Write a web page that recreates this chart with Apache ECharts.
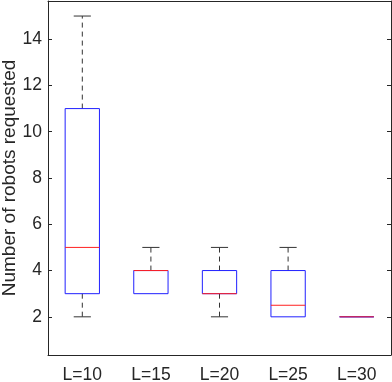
<!DOCTYPE html>
<html>
<head>
<meta charset="utf-8" />
<title>Robots requested</title>
<script src="https://cdn.jsdelivr.net/npm/echarts@6/dist/echarts.min.js"></script>
<style>
  html, body { margin: 0; padding: 0; background: #fff; }
  #chart { width: 392px; height: 382px; }
</style>
</head>
<body>
<div id="chart"></div>
<script>
// data
var categories = ['L=10', 'L=15', 'L=20', 'L=25', 'L=30'];
var whiskerLow = [2, 3, 2, 2, 2];
var quartile1 = [3, 3, 3, 2, 2];
var medians = [5, 4, 3, 2.5, 2];
var quartile3 = [11, 4, 4, 4, 2];
var whiskerHigh = [15, 5, 5, 5, 2];
var yTicks = [2, 4, 6, 8, 10, 12, 14];

var axisColor = '#262626';
var font = 'Liberation Sans, Arial, Helvetica, sans-serif';

var boxData = categories.map(function (c, i) {
    return [i, whiskerLow[i], quartile1[i], medians[i], quartile3[i], whiskerHigh[i]];
});

function renderBox(params, api) {
    var i = api.value(0);
    var pLow = api.coord([i, api.value(1)]);
    var pQ1 = api.coord([i, api.value(2)]);
    var pMed = api.coord([i, api.value(3)]);
    var pQ3 = api.coord([i, api.value(4)]);
    var pHigh = api.coord([i, api.value(5)]);
    var bw = api.size([1, 0])[0] * 0.5;
    var cx = pMed[0];
    var dash = { stroke: '#333', lineWidth: 1, lineDash: [5, 4] };
    var solid = { stroke: '#333', lineWidth: 1 };
    var children = [];
    if (pHigh[1] < pQ3[1]) {
        children.push({ type: 'line', shape: { x1: cx, y1: pQ3[1], x2: cx, y2: pHigh[1] }, style: dash });
        children.push({ type: 'line', shape: { x1: cx - bw / 4, y1: pHigh[1], x2: cx + bw / 4, y2: pHigh[1] }, style: solid });
    }
    if (pLow[1] > pQ1[1]) {
        children.push({ type: 'line', shape: { x1: cx, y1: pQ1[1], x2: cx, y2: pLow[1] }, style: dash });
        children.push({ type: 'line', shape: { x1: cx - bw / 4, y1: pLow[1], x2: cx + bw / 4, y2: pLow[1] }, style: solid });
    }
    children.push({
        type: 'rect',
        shape: { x: cx - bw / 2, y: pQ3[1], width: bw, height: pQ1[1] - pQ3[1] },
        style: { fill: 'none', stroke: '#2020ff', lineWidth: 1 }
    });
    children.push({
        type: 'line',
        shape: { x1: cx - bw / 2, y1: pMed[1], x2: cx + bw / 2, y2: pMed[1] },
        style: { stroke: '#ff2020', lineWidth: 1 }
    });
    return { type: 'group', children: children };
}

var chart = echarts.init(document.getElementById('chart'));
chart.setOption({
    animation: false,
    grid: { left: 48, right: 1, top: 1, bottom: 27, containLabel: false, outerBoundsMode: 'none' },
    xAxis: [{
        type: 'category',
        data: categories,
        position: 'bottom',
        axisLine: { lineStyle: { color: axisColor, width: 1 } },
        axisTick: { inside: true, alignWithLabel: true, length: 4, lineStyle: { color: axisColor } },
        axisLabel: { color: axisColor, fontSize: 17.5, fontFamily: font, margin: 11 },
        splitLine: { show: false }
    }, {
        type: 'category',
        data: categories,
        position: 'top',
        axisLine: { lineStyle: { color: axisColor, width: 1 } },
        axisTick: { inside: true, alignWithLabel: true, length: 4, lineStyle: { color: axisColor } },
        axisLabel: { show: false },
        splitLine: { show: false }
    }],
    yAxis: [{
        type: 'value',
        min: 0.35,
        max: 15.65,
        position: 'left',
        name: 'Number of robots requested',
        nameLocation: 'middle',
        nameGap: 29,
        nameMoveOverlap: false,
        nameTextStyle: { color: axisColor, fontSize: 19, fontFamily: font },
        axisLine: { show: true, lineStyle: { color: axisColor, width: 1 } },
        axisTick: { show: true, inside: true, length: 4, customValues: yTicks, lineStyle: { color: axisColor } },
        axisLabel: { color: axisColor, fontSize: 17.5, fontFamily: font, margin: 6, customValues: yTicks },
        splitLine: { show: false }
    }, {
        type: 'value',
        min: 0.35,
        max: 15.65,
        position: 'right',
        axisLine: { show: true, lineStyle: { color: axisColor, width: 1 } },
        axisTick: { show: true, inside: true, length: 4, customValues: yTicks, lineStyle: { color: axisColor } },
        axisLabel: { show: false },
        splitLine: { show: false }
    }],
    series: [{
        type: 'custom',
        xAxisIndex: 0,
        yAxisIndex: 0,
        renderItem: renderBox,
        encode: { x: 0, y: [1, 2, 3, 4, 5] },
        data: boxData,
        z: 3
    }]
});
</script>
</body>
</html>
